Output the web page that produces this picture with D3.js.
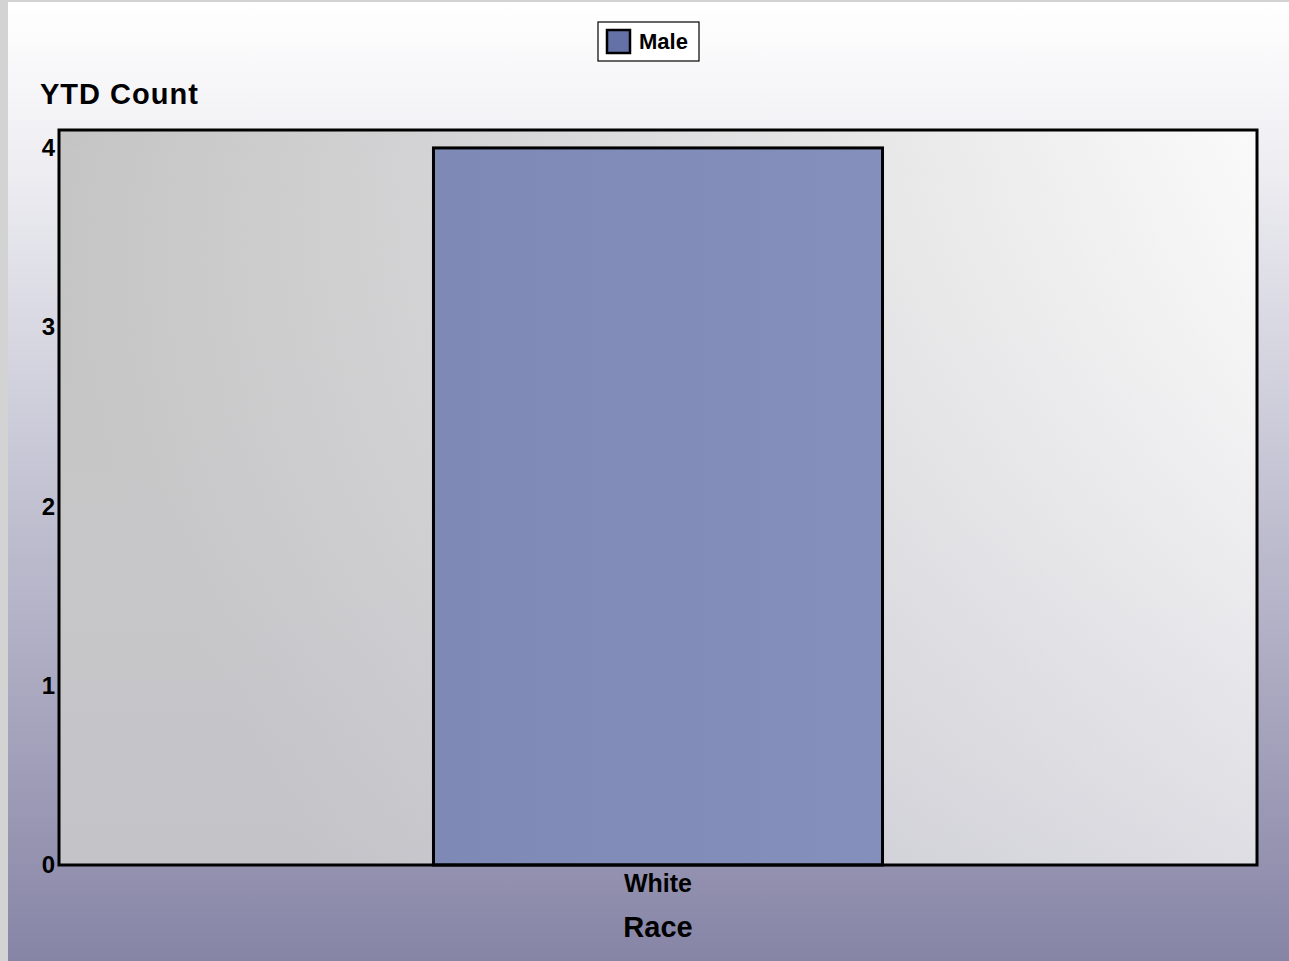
<!DOCTYPE html>
<html>
<head>
<meta charset="utf-8">
<script src="https://cdn.jsdelivr.net/npm/d3@7"></script>
<style>
  body { margin: 0; background: #d3d3d3; }
  svg { display: block; }
  text { font-family: "Liberation Sans", Arial, sans-serif; font-weight: bold; fill: #000; }
</style>
</head>
<body>
<svg id="chart" width="1289" height="961"></svg>
<script>
// chart data
var categories = ["White"];
var seriesNames = ["Male"];
var maleValues = [4];
var yTicks = [0, 1, 2, 3, 4];
var yTitle = "YTD Count";
var xTitle = "Race";

var svg = d3.select("#chart"),
    width = +svg.attr("width"),
    height = +svg.attr("height");

var defs = svg.append("defs");

// page background: white to lavender
var bg = defs.append("linearGradient").attr("id", "bg")
  .attr("x1", 0).attr("y1", 0).attr("x2", 0).attr("y2", 1);
bg.append("stop").attr("offset", "0%").attr("stop-color", "#ffffff");
bg.append("stop").attr("offset", "15%").attr("stop-color", "#f0f0f4");
bg.append("stop").attr("offset", "100%").attr("stop-color", "#8785a6");

// plot area: grey on left, nearly white on right
var pg = defs.append("linearGradient").attr("id", "plotbg")
  .attr("x1", 0).attr("y1", 0.3).attr("x2", 1).attr("y2", 0);
pg.append("stop").attr("offset", "0%").attr("stop-color", "#c0c0c0");
pg.append("stop").attr("offset", "45%").attr("stop-color", "#d8d8da");
pg.append("stop").attr("offset", "100%").attr("stop-color", "#fafafa");

var pg2 = defs.append("linearGradient").attr("id", "plotshade")
  .attr("x1", 0).attr("y1", 0).attr("x2", 0).attr("y2", 1);
pg2.append("stop").attr("offset", "0%").attr("stop-color", "#ffffff").attr("stop-opacity", 0);
pg2.append("stop").attr("offset", "100%").attr("stop-color", "#c8c8d8").attr("stop-opacity", 0.35);

var barg = defs.append("linearGradient").attr("id", "barfill")
  .attr("x1", 0).attr("y1", 0).attr("x2", 1).attr("y2", 0);
barg.append("stop").attr("offset", "0%").attr("stop-color", "#7e8ab5");
barg.append("stop").attr("offset", "100%").attr("stop-color", "#8490bb");

// background with the grey strips on left and top
svg.append("rect").attr("x", 8).attr("y", 2).attr("width", width - 8).attr("height", height - 2)
  .attr("fill", "url(#bg)");

var plot = { left: 59, top: 130, right: 1257, bottom: 865 };

var x = d3.scaleBand()
  .domain(categories)
  .range([plot.left, plot.right])
  .paddingInner(0)
  .paddingOuter(0.834);

var y = d3.scaleLinear()
  .domain([0, 4.1])
  .range([plot.bottom, plot.top]);

// plot area
svg.append("rect")
  .attr("x", plot.left).attr("y", plot.top)
  .attr("width", plot.right - plot.left).attr("height", plot.bottom - plot.top)
  .attr("fill", "url(#plotbg)");
svg.append("rect")
  .attr("x", plot.left).attr("y", plot.top)
  .attr("width", plot.right - plot.left).attr("height", plot.bottom - plot.top)
  .attr("fill", "url(#plotshade)");

// bars
svg.append("g")
  .selectAll("rect")
  .data(maleValues)
  .enter()
  .append("rect")
    .attr("x", function(d, i) { return x(categories[i]); })
    .attr("y", function(d) { return y(d); })
    .attr("width", x.bandwidth())
    .attr("height", function(d) { return y(0) - y(d); })
    .attr("fill", "url(#barfill)")
    .attr("stroke", "#000")
    .attr("stroke-width", 3);

// plot border on top
svg.append("rect")
  .attr("x", plot.left).attr("y", plot.top)
  .attr("width", plot.right - plot.left).attr("height", plot.bottom - plot.top)
  .attr("fill", "none").attr("stroke", "#000").attr("stroke-width", 3);

// y axis labels
var yAxis = d3.axisLeft(y).tickValues(yTicks).tickSize(0).tickPadding(3).tickFormat(d3.format("d"));
var yg = svg.append("g").attr("transform", "translate(" + (plot.left - 1) + ",0)").call(yAxis);
yg.select(".domain").remove();
yg.selectAll("text").style("font-size", "24px").style("font-family", "Liberation Sans, Arial, sans-serif")
  .style("font-weight", "bold").attr("fill", "#000");

// x axis labels
var xAxis = d3.axisBottom(x).tickSize(0).tickPadding(0);
var xg = svg.append("g").attr("transform", "translate(0," + plot.bottom + ")").call(xAxis);
xg.select(".domain").remove();
xg.selectAll("text").attr("dy", null).attr("y", 27)
  .style("font-size", "25px").style("font-family", "Liberation Sans, Arial, sans-serif")
  .style("font-weight", "bold").attr("fill", "#000");

// titles
svg.append("text").attr("x", 40).attr("y", 104).style("font-size", "29px")
  .style("letter-spacing", "1px").text(yTitle);
svg.append("text").attr("x", 658).attr("y", 937).attr("text-anchor", "middle")
  .style("font-size", "29px").text(xTitle);

// legend
var legend = svg.append("g").attr("transform", "translate(598,22)");
legend.append("rect").attr("width", 101).attr("height", 39)
  .attr("fill", "#fff").attr("stroke", "#000").attr("stroke-width", 1.2);
legend.selectAll(".sw").data(seriesNames).enter().append("rect")
  .attr("x", 9).attr("y", 8).attr("width", 23).attr("height", 23)
  .attr("fill", "#6471a6").attr("stroke", "#000").attr("stroke-width", 2.5);
legend.selectAll(".lb").data(seriesNames).enter().append("text")
  .attr("x", 41).attr("y", 27).style("font-size", "22px").text(function(d) { return d; });
</script>
</body>
</html>
